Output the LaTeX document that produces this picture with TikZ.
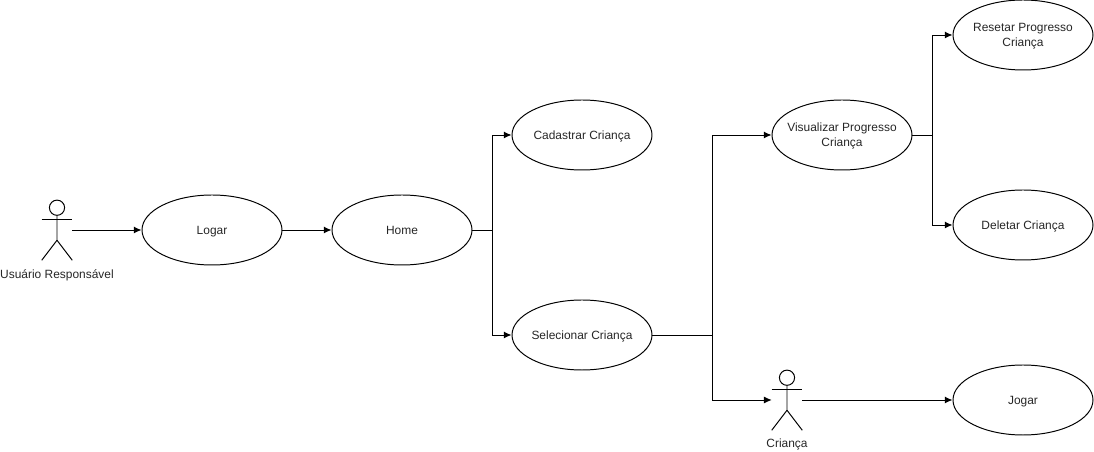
\documentclass[tikz,border=0pt]{standalone}
\usepackage{fontspec}
\setmainfont{Liberation Sans}
\usepackage{tikz}
\usetikzlibrary{shapes, arrows, arrows.meta, positioning}
\tikzstyle{every node} = [font=\fontsize{8.5}{10.5}\selectfont, text=black!85]
\tikzstyle{-}    = [draw, line width=0.7pt]
\tikzstyle{->}   = [draw, line width=0.7pt, -{Latex[length=5.5pt, width=5pt]}]
\tikzstyle{usecase} = [draw, ellipse, line width=0.7pt, minimum width=3.5cm, minimum height=1.75cm, align=center, inner xsep=-0.6cm, inner ysep=0pt, text depth=0pt]
\tikzstyle{actor}   = [minimum width=0.75cm, minimum height=1.5cm, inner sep=0pt]

\begin{document}
\begin{tikzpicture}
\useasboundingbox (0,0) rectangle (27.35,-11.3);

% nodes
\node [actor, label={[name=usuariolabel, label distance=0.1cm]below:Usuário Responsável}] at ( 1.425, -5.75 ) (usuario) {};
\node [usecase] at ( 5.3  , -5.75 ) (logar)      {Logar};
\node [usecase] at (10.05 , -5.75 ) (home)       {Home};
\node [usecase] at (14.55 , -3.375) (cadastrar)  {Cadastrar Criança};
\node [usecase] at (14.55 , -8.375) (selecionar) {Selecionar Criança};
\node [usecase] at (21.05 , -3.375) (visualizar) {Visualizar Progresso\\Criança};
\node [usecase] at (25.575, -0.875) (resetar)    {Resetar Progresso\\Criança};
\node [usecase] at (25.575, -5.625) (deletar)    {Deletar Criança};
\node [usecase] at (25.575,-10    ) (jogar)      {Jogar};
\node [actor, label={[name=criancalabel, label distance=0.1cm]below:Criança}] at (19.675,-10) (crianca) {};

% forks
\coordinate (forkhome)       at (12.3 , -5.75 );
\coordinate (forkselecionar) at (17.8 , -8.375);
\coordinate (forkvisualizar) at (23.3 , -3.375);

% stick figures
\foreach \who in {usuario, crianca} {
  \draw [-] ([yshift=-0.2cm]\who.north) circle (0.19cm);
  \draw [-] ([yshift=-0.39cm]\who.north) -- ([yshift=0.5cm]\who.south)
            -- (\who.south west);
  \draw [-] ([yshift=0.5cm]\who.south) -- (\who.south east);
  \draw [-] ([yshift=-0.5cm]\who.north west) -- ([yshift=-0.5cm]\who.north east);
}

%  edges
\draw [->] (usuario.east) -- (logar.west);
\draw [->] (logar.east) -- (home.west);
\draw [->] (crianca.east) -- (jogar.west);
\draw [-]  (home.east) -- (forkhome);
\draw [-]  (selecionar.east) -- (forkselecionar);
\draw [-]  (visualizar.east) -- (forkvisualizar);
\draw [->] (forkhome) |- (cadastrar.west);
\draw [->] (forkhome) |- (selecionar.west);
\draw [->] (forkselecionar) |- (visualizar.west);
\draw [->] (forkselecionar) |- (crianca.west);
\draw [->] (forkvisualizar) |- (resetar.west);
\draw [->] (forkvisualizar) |- (deletar.west);

\end{tikzpicture}
\end{document}
